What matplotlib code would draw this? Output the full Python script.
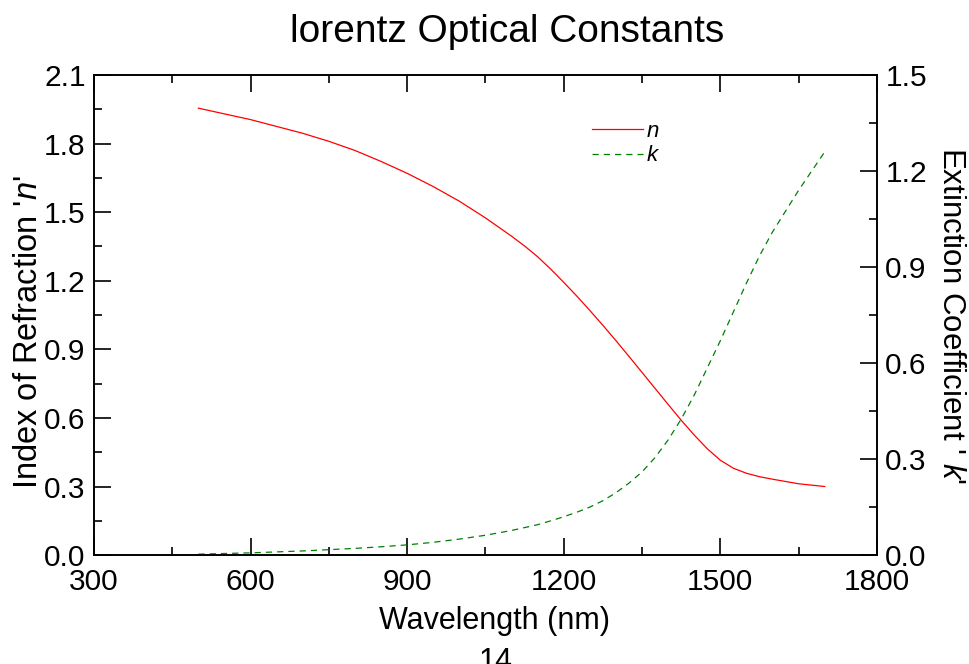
import matplotlib
matplotlib.use('Agg')
import matplotlib.pyplot as plt
from matplotlib.ticker import MultipleLocator

plt.rcParams['font.family'] = ['Liberation Sans', 'DejaVu Sans']
plt.rcParams['mathtext.fontset'] = 'custom'
plt.rcParams['mathtext.it'] = 'Liberation Sans:italic'
plt.rcParams['mathtext.rm'] = 'Liberation Sans'

# data
wavelength = [500, 550, 600, 650, 700, 750, 800, 850, 900, 950, 1000, 1050,
              1100, 1125, 1150, 1175, 1200, 1225, 1250, 1275, 1300, 1325,
              1350, 1375, 1400, 1425, 1450, 1475, 1500, 1525, 1550, 1575,
              1600, 1650, 1700]
n_vals = [1.955, 1.93, 1.905, 1.875, 1.845, 1.81, 1.77, 1.722, 1.67, 1.612,
          1.548, 1.475, 1.395, 1.352, 1.305, 1.251, 1.193, 1.133, 1.07, 1.005,
          0.938, 0.869, 0.799, 0.729, 0.659, 0.59, 0.525, 0.465, 0.415, 0.38,
          0.358, 0.343, 0.332, 0.312, 0.30]
k_vals = [0.003, 0.005, 0.007, 0.010, 0.013, 0.017, 0.021, 0.026, 0.032,
          0.040, 0.050, 0.062, 0.077, 0.086, 0.095, 0.107, 0.12, 0.134,
          0.15, 0.17, 0.195, 0.225, 0.26, 0.305, 0.36, 0.425, 0.50, 0.585,
          0.67, 0.76, 0.85, 0.935, 1.01, 1.14, 1.26]

fig, ax = plt.subplots(figsize=(9.69, 6.64), dpi=100)
fig.subplots_adjust(left=0.097, right=0.905, top=0.887, bottom=0.164)
ax2 = ax.twinx()

ln1, = ax.plot(wavelength, n_vals, color='#ff0000', lw=0.9)
ln2, = ax2.plot(wavelength, k_vals, color='#008000', lw=0.9, ls=(0, (5, 4)))

ax.set_xlim(300, 1800)
ax.set_ylim(0, 2.1)
ax2.set_ylim(0, 1.5)

ax.xaxis.set_major_locator(MultipleLocator(300))
ax.xaxis.set_minor_locator(MultipleLocator(150))
ax.yaxis.set_major_locator(MultipleLocator(0.3))
ax.yaxis.set_minor_locator(MultipleLocator(0.15))
ax2.yaxis.set_major_locator(MultipleLocator(0.3))
ax2.yaxis.set_minor_locator(MultipleLocator(0.15))
ax.yaxis.set_major_formatter(plt.FormatStrFormatter('%.1f'))
ax2.yaxis.set_major_formatter(plt.FormatStrFormatter('%.1f'))

ax.tick_params(axis='x', which='both', direction='in', top=True, labelsize=21.5, pad=9)
ax.tick_params(axis='y', which='both', direction='in', right=False, labelsize=21.5, pad=6)
ax.tick_params(which='major', length=12, width=1.2)
ax.tick_params(which='minor', length=6, width=1.2)
ax2.tick_params(axis='y', which='both', direction='in', labelsize=21.5, pad=6)
ax2.tick_params(which='major', length=12, width=1.2)
ax2.tick_params(which='minor', length=6, width=1.2)
for a in (ax, ax2):
    for s in a.spines.values():
        s.set_linewidth(1.2)

ax.set_xlabel('Wavelength (nm)', fontsize=22)
ax.xaxis.set_label_coords(0.511, -0.106)
ax.set_ylabel("Index of Refraction '$n$'", fontsize=23.5)
ax.yaxis.set_label_coords(-0.064, 0.465)
ax2.set_ylabel("Extinction Coefficient ' $k$'", fontsize=22.5, rotation=270,
               va='bottom')
ax2.yaxis.set_label_coords(1.075, 0.5)
ax.set_title('lorentz Optical Constants', fontsize=28, pad=24, x=0.528)

ax.legend([ln1, ln2], ['$n$', '$k$'], loc='upper left',
          bbox_to_anchor=(0.61, 0.946), frameon=False, fontsize=16,
          handlelength=2.3, handletextpad=0.15, labelspacing=0.15)

fig.text(0.511, 0.026, '14', fontsize=22, ha='center', va='top')

fig.savefig('out.png', dpi=100)
